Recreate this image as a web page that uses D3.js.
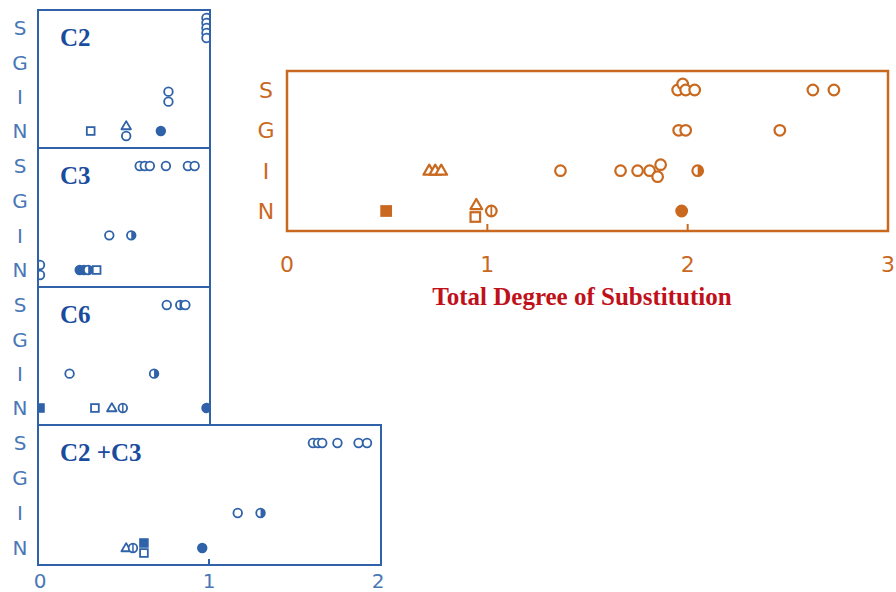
<!DOCTYPE html>
<html>
<head>
<meta charset="utf-8">
<script src="https://cdn.jsdelivr.net/npm/d3@7"></script>
<style>
  body { margin: 0; background: #fff; }
  svg { display: block; }
</style>
</head>
<body>
<svg id="chart" width="896" height="592"></svg>
<script>
// row categories (substitution position)
const rows = ['S', 'G', 'I', 'N'];

// points: [row, total degree of substitution, symbol, stack level]
const c2 = [
  ['S', 0.985, 'open', -2], ['S', 0.985, 'open', -1], ['S', 0.985, 'open', 0], ['S', 0.985, 'open', 1], ['S', 0.985, 'open', 2],
  ['I', 0.76, 'open', -1], ['I', 0.76, 'open', 1],
  ['N', 0.30, 'square', 0], ['N', 0.51, 'triangle', -1], ['N', 0.51, 'open', 1], ['N', 0.715, 'filled', 0]
];
const c3 = [
  ['S', 0.59, 'open', 0], ['S', 0.62, 'open', 0], ['S', 0.65, 'open', 0], ['S', 0.745, 'open', 0], ['S', 0.875, 'open', 0], ['S', 0.915, 'open', 0],
  ['I', 0.41, 'open', 0], ['I', 0.54, 'half', 0],
  ['N', 0.0, 'open', -1], ['N', 0.0, 'open', 1], ['N', 0.235, 'filled', 0], ['N', 0.26, 'filled', 0], ['N', 0.285, 'half', 0], ['N', 0.335, 'square', 0]
];
const c6 = [
  ['S', 0.75, 'open', 0], ['S', 0.83, 'phi', 0], ['S', 0.86, 'open', 0],
  ['I', 0.175, 'open', 0], ['I', 0.675, 'half', 0],
  ['N', 0.0, 'fsquare', 0], ['N', 0.325, 'square', 0], ['N', 0.425, 'triangle', 0], ['N', 0.49, 'phi', 0], ['N', 0.985, 'filled', 0]
];
const c2c3 = [
  ['S', 1.615, 'open', 0], ['S', 1.645, 'open', 0], ['S', 1.67, 'open', 0], ['S', 1.76, 'open', 0], ['S', 1.885, 'open', 0], ['S', 1.935, 'open', 0],
  ['I', 1.17, 'open', 0], ['I', 1.305, 'half', 0],
  ['N', 0.51, 'triangle', 0], ['N', 0.55, 'phi', 0], ['N', 0.615, 'square', 1], ['N', 0.615, 'fsquare', -1], ['N', 0.96, 'filled', 0]
];
const total = [
  ['S', 1.95, 'open', 0], ['S', 1.975, 'open', -1], ['S', 1.99, 'open', 0], ['S', 2.035, 'open', 0], ['S', 2.625, 'open', 0], ['S', 2.73, 'open', 0],
  ['G', 1.955, 'open', 0], ['G', 1.99, 'open', 0], ['G', 2.46, 'open', 0],
  ['I', 0.71, 'triangle', 0], ['I', 0.74, 'triangle', 0], ['I', 0.77, 'triangle', 0],
  ['I', 1.365, 'open', 0], ['I', 1.665, 'open', 0], ['I', 1.75, 'open', 0], ['I', 1.81, 'open', 0], ['I', 1.85, 'open', 1], ['I', 1.865, 'open', -1], ['I', 2.05, 'half', 0],
  ['N', 0.495, 'fsquare', 0], ['N', 0.94, 'square', 1], ['N', 0.945, 'triangle', -1], ['N', 1.02, 'phi', 0], ['N', 1.97, 'filled', 0]
];

const blueTicks = [0, 1, 2];
const totalTicks = [0, 1, 2, 3];
const xTitle = 'Total Degree of Substitution';

const BLUE = '#2f62a8', BLUE_LBL = '#4a78b6', BLUE_TTL = '#1a4c9e';
const ORANGE = '#c9691f', RED = '#c0111b';

const svg = d3.select('#chart');

function symbol(g, d, x, y, r, color, sw) {
  const kind = d[2];
  if (kind === 'open' || kind === 'filled') {
    g.append('circle').attr('cx', x).attr('cy', y).attr('r', r)
      .attr('fill', kind === 'filled' ? color : '#fff').attr('stroke', color).attr('stroke-width', sw);
  } else if (kind === 'half') {
    g.append('circle').attr('cx', x).attr('cy', y).attr('r', r)
      .attr('fill', '#fff').attr('stroke', color).attr('stroke-width', sw);
    g.append('path').attr('d', `M${x},${y - r}A${r},${r} 0 0 1 ${x},${y + r}Z`).attr('fill', color);
  } else if (kind === 'phi') {
    g.append('circle').attr('cx', x).attr('cy', y).attr('r', r)
      .attr('fill', '#fff').attr('stroke', color).attr('stroke-width', sw);
    g.append('line').attr('x1', x).attr('x2', x).attr('y1', y - r).attr('y2', y + r)
      .attr('stroke', color).attr('stroke-width', sw * 0.8);
  } else if (kind === 'square' || kind === 'fsquare') {
    const s = r * 1.8;
    g.append('rect').attr('x', x - s / 2).attr('y', y - s / 2).attr('width', s).attr('height', s)
      .attr('fill', kind === 'fsquare' ? color : '#fff').attr('stroke', color).attr('stroke-width', sw);
  } else if (kind === 'triangle') {
    const h = r * 1.9;
    g.append('path').attr('d', `M${x},${y - h * 0.6}L${x + h * 0.58},${y + h * 0.4}L${x - h * 0.58},${y + h * 0.4}Z`)
      .attr('fill', '#fff').attr('stroke', color).attr('stroke-width', sw).attr('stroke-linejoin', 'round');
  }
}

function panel(opts) {
  const { data, left, right, top, bottom, xr, domain, color, r, sw, lblX, lblColor, lblSize, stackGap } = opts;
  const x = d3.scaleLinear().domain(domain).range(xr);
  const y = d3.scalePoint().domain(rows).range([top + opts.padTop, bottom - opts.padBottom]);
  const g = svg.append('g');

  // row labels
  g.selectAll('.rowlbl').data(rows).join('text')
    .attr('x', lblX).attr('y', d => y(d))
    .attr('dy', '0.36em').attr('text-anchor', 'middle')
    .attr('font-family', 'DejaVu Sans, sans-serif').attr('font-size', lblSize)
    .attr('fill', lblColor).text(d => d);

  const clipId = 'clip' + Math.round(top) + Math.round(left);
  svg.append('clipPath').attr('id', clipId).append('rect')
    .attr('x', left).attr('y', top).attr('width', right - left).attr('height', bottom - top);
  const pts = g.append('g').attr('clip-path', `url(#${clipId})`);
  data.forEach(d => symbol(pts, d, x(d[1]), y(d[0]) + d[3] * stackGap, r, color, sw));

  g.append('rect').attr('x', left).attr('y', top).attr('width', right - left).attr('height', bottom - top)
    .attr('fill', 'none').attr('stroke', color).attr('stroke-width', opts.frame);

  if (opts.title) {
    g.append('text').attr('x', left + 22).attr('y', top + 36)
      .attr('font-family', 'Liberation Serif, serif').attr('font-weight', 'bold')
      .attr('font-size', 25).attr('fill', BLUE_TTL).text(opts.title);
  }
  return { g, x };
}

// blue stack
const bl = 38, br = 210;
const common = { xr: [40, 209], domain: [0, 1], color: BLUE, r: 4.3, sw: 1.8, lblX: 20, lblColor: BLUE_LBL, lblSize: 20,
  padTop: 18, padBottom: 17, stackGap: 5, frame: 2 };
panel({ ...common, data: c2, left: bl, right: br, top: 10, bottom: 148, title: 'C2' });
panel({ ...common, data: c3, left: bl, right: br, top: 148, bottom: 287, title: 'C3' });
panel({ ...common, data: c6, left: bl, right: br, top: 287, bottom: 425, title: 'C6' });
const bottomPanel = panel({ ...common, data: c2c3, left: bl, right: 381, top: 425, bottom: 565, xr: [40, 378], domain: [0, 2], title: 'C2 +C3' });

bottomPanel.g.selectAll('.tk').data(blueTicks).join('text')
  .attr('x', d => bottomPanel.x(d)).attr('y', 588).attr('text-anchor', 'middle')
  .attr('font-family', 'DejaVu Sans, sans-serif').attr('font-size', 20)
  .attr('fill', BLUE_LBL).text(d => d);
bottomPanel.g.selectAll('.tm').data(blueTicks.slice(1, -1)).join('line')
  .attr('x1', d => bottomPanel.x(d)).attr('x2', d => bottomPanel.x(d)).attr('y1', 565).attr('y2', 559)
  .attr('stroke', BLUE).attr('stroke-width', 2);

// orange total panel
const tp = panel({ data: total, left: 287, right: 888, top: 71, bottom: 231, xr: [287, 888], domain: [0, 3],
  color: ORANGE, r: 5.3, sw: 2.2, lblX: 266, lblColor: ORANGE, lblSize: 22, padTop: 19, padBottom: 20, stackGap: 6, frame: 2.5 });

tp.g.selectAll('.tk').data(totalTicks).join('text')
  .attr('x', d => tp.x(d)).attr('y', 272).attr('text-anchor', 'middle')
  .attr('font-family', 'DejaVu Sans, sans-serif').attr('font-size', 22)
  .attr('fill', ORANGE).text(d => d);
tp.g.selectAll('.tm').data(totalTicks.slice(1, -1)).join('line')
  .attr('x1', d => tp.x(d)).attr('x2', d => tp.x(d)).attr('y1', 231).attr('y2', 224)
  .attr('stroke', ORANGE).attr('stroke-width', 2);

svg.append('text').attr('x', 582).attr('y', 305).attr('text-anchor', 'middle')
  .attr('font-family', 'Liberation Serif, serif').attr('font-weight', 'bold')
  .attr('font-size', 25).attr('fill', RED).text(xTitle);
</script>
</body>
</html>
